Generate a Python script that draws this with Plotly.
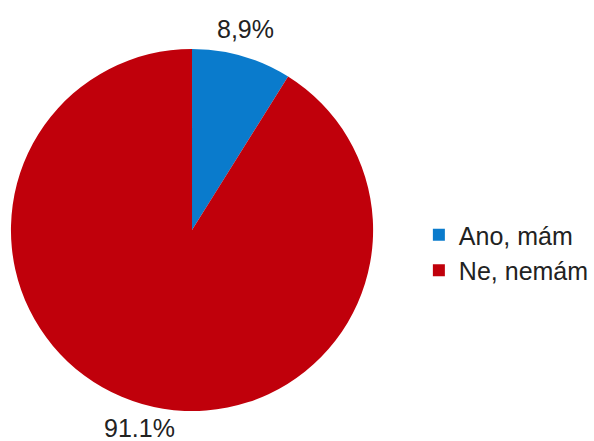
import plotly.graph_objects as go

# Survey answers and their shares (%)
categories = ["Ano, mám", "Ne, nemám"]
shares = [8.9, 91.1]
share_labels = ["8,9%", "91.1%"]
colors = ["#0A7BCC", "#C0000B"]

W, H = 594, 441
cx, cy, r = 193, 230, 182  # pie centre and radius in pixels

fig = go.Figure(
    go.Pie(
        labels=categories,
        values=shares,
        marker=dict(colors=colors, line=dict(width=0)),
        sort=False,
        direction="clockwise",
        rotation=0,
        textinfo="none",
        hoverinfo="label+percent",
        domain=dict(x=[(cx - r) / W, (cx + r) / W],
                    y=[1 - (cy + r) / H, 1 - (cy - r) / H]),
    )
)

# Outside value labels
label_pos = [(247, 29), (140, 428)]
for txt, (px, py) in zip(share_labels, label_pos):
    fig.add_annotation(
        x=px / W, y=1 - py / H, xref="paper", yref="paper",
        text=txt, showarrow=False,
        font=dict(family="Liberation Sans, Arial", size=25, color="#222222"),
        xanchor="center", yanchor="middle",
    )

fig.update_layout(
    width=W, height=H,
    margin=dict(l=0, r=0, t=0, b=0),
    paper_bgcolor="white",
    plot_bgcolor="white",
    showlegend=True,
    legend=dict(
        x=421 / W, y=1 - 212 / H, xanchor="left", yanchor="top",
        font=dict(family="Liberation Sans, Arial", size=25, color="#222222"),
        itemwidth=30, tracegroupgap=0,
        bgcolor="rgba(0,0,0,0)",
    ),
)

fig.write_html("out.html")
